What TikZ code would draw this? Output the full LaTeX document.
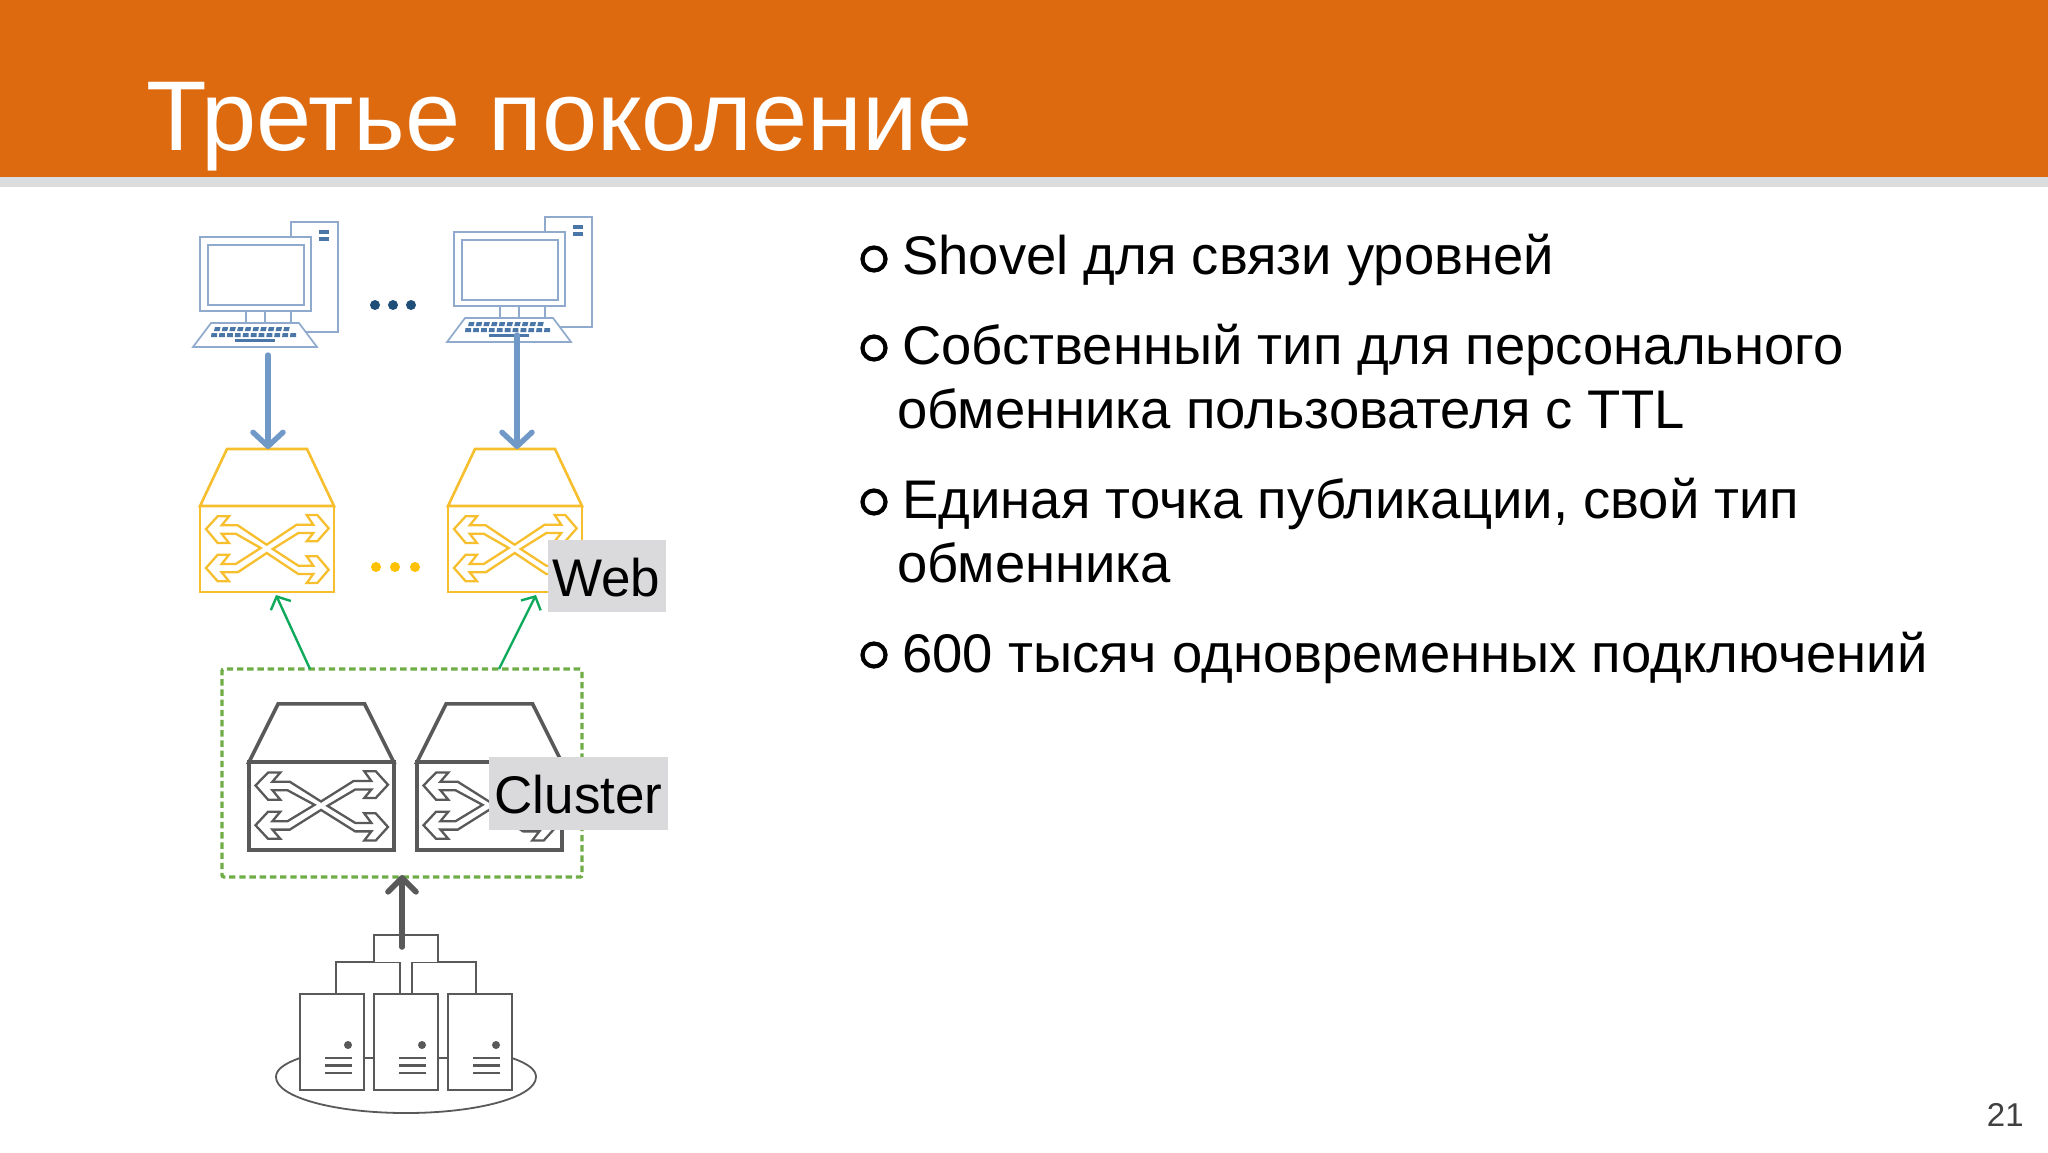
\documentclass[tikz,border=0pt]{standalone}
\usepackage{fontspec}
\setmainfont{Liberation Sans}
\usetikzlibrary{arrows.meta}

\definecolor{bannerorange}{HTML}{DE6A10}
\definecolor{bannergray}{HTML}{DADCDD}
\definecolor{pcline}{HTML}{8FAACC}
\definecolor{pckey}{HTML}{4A76A8}
\definecolor{pcdots}{HTML}{1F4E79}
\definecolor{pcarrow}{HTML}{7099C8}
\definecolor{webyellow}{HTML}{F7BE2D}
\definecolor{webdots}{HTML}{FFC000}
\definecolor{shovelgreen}{HTML}{0FA95C}
\definecolor{clustergreen}{HTML}{70AD47}
\definecolor{nodegray}{HTML}{595959}
\definecolor{labelgray}{HTML}{DADADC}

\tikzset{
    titletext/.style={anchor=base west,inner sep=0pt,text=white,font=\fontsize{49.6}{54}\selectfont},
    bullettext/.style={anchor=base west,inner sep=0pt,font=\fontsize{27.2}{32}\selectfont},
    bulletmark/.style={circle,draw=black,line width=2.1pt,fill=white,inner sep=0pt,minimum size=11.5pt},
    iconlabel/.style={fill=labelgray,inner sep=0pt,font=\fontsize{26.5}{32}\selectfont},
    pcflow/.style={draw=pcarrow,line width=2.7pt,line cap=round,-{Straight Barb[length=7pt,width=15pt,line width=2.7pt,round]}},
    shovelflow/.style={draw=shovelgreen,line width=1.2pt,-{Straight Barb[length=5pt,width=11pt,line width=1.2pt]}},
    clusterflow/.style={draw=nodegray,line width=2.8pt,line cap=round,-{Straight Barb[length=7pt,width=14pt,line width=2.8pt,round]}},
    clusterbox/.style={draw=clustergreen,line width=1.7pt,dash pattern=on 3.2pt off 1.9pt,rounded corners=1pt,inner sep=0pt},
    serverline/.style={draw=nodegray,line width=.9pt,fill=white},
    pics/computericon/.style={code={
        % tower behind the monitor
        \draw[pcline,line width=.85pt,fill=white] (91,-15) rectangle (138,95);
        \fill[pckey] (119,-7) rectangle (129,-3);
        \fill[pckey] (119,0) rectangle (129,4);
        % monitor and stand
        \draw[pcline,line width=.85pt] (46,74) -- (46,86) (65,74) -- (65,86) (91,74) -- (91,86);
        \draw[pcline,line width=.85pt,fill=white] (0,0) rectangle (111,74);
        \draw[pcline,line width=.85pt] (8,8) rectangle (104,68);
        % keyboard
        \draw[pcline,line width=.85pt,fill=white] (11,86) -- (99,86) -- (117,110) -- (-7,110) -- cycle;
        \foreach \k in {0,...,9} \fill[pckey] (15+7.7*\k,90) -- (20.5+7.7*\k,90) -- (19.5+7.7*\k,94) -- (14+7.7*\k,94) -- cycle;
        \foreach \k in {0,...,10} \fill[pckey] (11.5+7.9*\k,96) -- (17+7.9*\k,96) -- (17+7.9*\k,100) -- (11+7.9*\k,100) -- cycle;
        \fill[pckey] (35,102) rectangle (75,105);
    }},
    pics/switchicon/.style={code={
        \draw (27,-57) -- (107,-57) -- (134,0) -- (0,0) -- cycle;
        \draw (0,0) rectangle (134,86);
        % crossed arrows
        \draw[line width=1.15pt] (6,23) -- (17.7,10.3) -- (29,10.3) -- (21.7,19.3) -- (37.7,19.3)
            -- (66.7,38.7) -- (96.7,18.7) -- (113.3,18.7) -- (106.7,9) -- (117.3,9) -- (128.7,22.3)
            -- (117.3,35.3) -- (106.7,35.3) -- (113.3,27) -- (98.3,27) -- (72.7,43) -- (98.3,59.7)
            -- (113.3,59.7) -- (106.7,50.3) -- (117.3,50.3) -- (128.7,63.7) -- (117.3,77) -- (106.7,77)
            -- (113.3,68) -- (98.3,68) -- (66.7,47) -- (37.7,66.3) -- (21.7,66.3) -- (29,75.3)
            -- (17.7,75.3) -- (6,62) -- (17.7,48.7) -- (29,48.7) -- (21.7,58) -- (35.7,58)
            -- (60.7,42) -- (35.7,27.7) -- (21.7,27.7) -- (29,37) -- (17.7,37) -- cycle;
    }},
    pics/servericon/.style={code={
        \draw[serverline] (0,0) rectangle (64,96);
        \fill[nodegray] (48,51) circle (4);
        \foreach \l in {64,71.5,79} \draw[nodegray,line width=1.1pt] (25,\l) -- (52,\l);
    }},
}

\begin{document}
\begin{tikzpicture}[x=.5pt,y=-.5pt]
    \useasboundingbox (0,0) rectangle (2048,1152);
    \fill[white] (0,0) rectangle (2048,1152);

    % Banner
    \fill[bannerorange] (0,0) rectangle (2048,177);
    \fill[bannergray] (0,177) rectangle (2048,187);
    \node[titletext] (title) at (146,150) {Третье поколение};

    % Bullet list
    \foreach \n/\y in {a/259,b/348,c/502,d/655} \node[bulletmark] (mark\n) at (874,\y) {};
    \node[bullettext] (shovel) at (902,274) {Shovel для связи уровней};
    \node[bullettext] (owntypeA) at (902,364) {Собственный тип для персонального};
    \node[bullettext] (owntypeB) at (897,428) {обменника пользователя с TTL};
    \node[bullettext] (entryA) at (902,518) {Единая точка публикации, свой тип};
    \node[bullettext] (entryB) at (897,582) {обменника};
    \node[bullettext] (conns) at (902,672) {600 тысяч одновременных подключений};

    % Computers
    \pic (pcA) at (200,237) {computericon};
    \pic (pcB) at (454,232) {computericon};
    \foreach \x in {375,393,411} \fill[pcdots] (\x,305) circle (5);

    % Web exchanges
    \pic (webA) [webyellow,line width=1.3pt] at (200,506) {switchicon};
    \pic (webB) [webyellow,line width=1.3pt] at (448,506) {switchicon};
    \foreach \x in {376,395,415} \fill[webdots] (\x,567) circle (5);

    % Client arrows
    \coordinate (pcAout) at (268,355);
    \coordinate (pcBout) at (517,335);
    \coordinate (webAin) at (268,449);
    \coordinate (webBin) at (517,449);
    \draw[pcflow] (pcAout) -- (webAin);
    \draw[pcflow] (pcBout) -- (webBin);

    % Cluster
    \node[clusterbox,minimum width=180pt,minimum height=104pt] (cluster) at (402,773) {};
    \pic (clusterA) [nodegray,line width=1.8pt,xscale=1.08,yscale=1.02] at (249,762) {switchicon};
    \pic (clusterB) [nodegray,line width=1.8pt,xscale=1.08,yscale=1.02] at (417,762) {switchicon};

    % Shovel arrows
    \coordinate (clusterOutA) at (310,669);
    \coordinate (clusterOutB) at (499,669);
    \coordinate (webAout) at (276,595);
    \coordinate (webBout) at (536,595);
    \draw[shovelflow] (clusterOutA) -- (webAout);
    \draw[shovelflow] (clusterOutB) -- (webBout);

    % Servers
    \draw[serverline] (300,1058) .. controls (283,1064) and (276,1070) .. (276,1077)
        .. controls (276,1097) and (334,1113) .. (406,1113)
        .. controls (478,1113) and (536,1097) .. (536,1077)
        .. controls (536,1070) and (529,1064) .. (512,1058) -- cycle;
    \draw[serverline] (336,994) -- (336,962) -- (400,962) -- (400,994);
    \draw[serverline] (412,994) -- (412,962) -- (476,962) -- (476,994);
    \draw[serverline] (374,962) -- (374,935) -- (438,935) -- (438,962);
    \pic (serverA) at (300,994) {servericon};
    \pic (serverB) at (374,994) {servericon};
    \pic (serverC) at (448,994) {servericon};
    \coordinate (serversOut) at (402,947);
    \coordinate (clusterIn) at (402,875);
    \draw[clusterflow] (serversOut) -- (clusterIn);

    % Labels over the icons
    \node[iconlabel,minimum width=59pt,minimum height=36pt] (weblabel) at (607,576) {};
    \node[anchor=base,inner sep=0pt,font=\fontsize{26.5}{32}\selectfont] (webtext) at (606,596) {Web};
    \node[iconlabel,minimum width=89.5pt,minimum height=36.5pt] (clusterlabel) at (578.5,793.5) {};
    \node[anchor=base,inner sep=0pt,font=\fontsize{26.5}{32}\selectfont] (clustertext) at (578.5,813) {Cluster};

    % Page number
    \node[anchor=base east,inner sep=0pt,text=black!75,font=\fontsize{16.5}{20}\selectfont] (pagenum) at (2024,1126) {21};
\end{tikzpicture}
\end{document}
